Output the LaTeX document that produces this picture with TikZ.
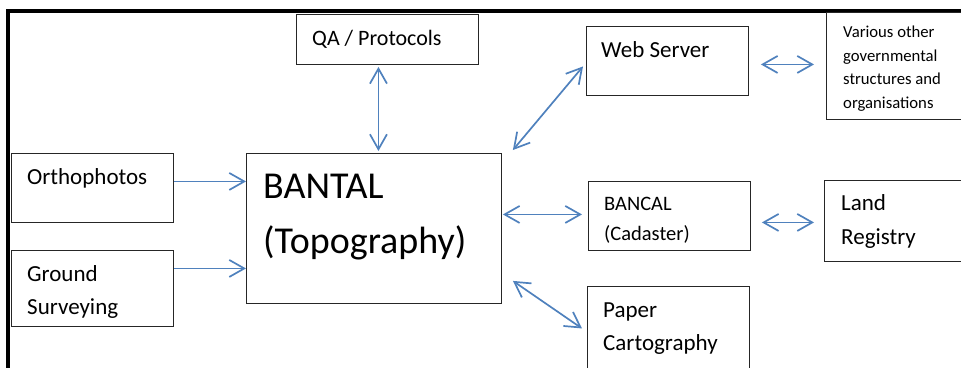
\documentclass[tikz,border=0pt]{standalone}
\usepackage{fontspec}
\setmainfont{Carlito}
\usetikzlibrary{arrows.meta, calc}
\definecolor{flowblue}{RGB}{79,129,189}

\begin{document}
\begin{tikzpicture}[x=1pt, y=-1pt, >={Straight Barb[length=15pt,width=17pt]}]
        \tikzstyle{box}=[draw=black!85, line width=0.9pt, inner sep=0pt, anchor=north west]
        \tikzstyle{txt}=[anchor=base west, align=left, inner sep=0pt, font=\fontsize{23}{33}\selectfont]
        \tikzstyle{flow}=[draw=flowblue, line width=1.7pt]
        \useasboundingbox (0,0) rectangle (961,367);
        \clip (0,0) rectangle (961,367);
        % frame
        \draw[line width=4pt] (8,370) -- (8,10.5) -- (965,10.5);
        % boxes
        \node[box, minimum width=182, minimum height=50] (qa) at (296,14) {};
        \node[box, minimum width=162, minimum height=69] (web) at (586,26) {};
        \node[box, minimum width=160, minimum height=107] (various) at (826,12) {};
        \node[box, minimum width=162, minimum height=69] (ortho) at (11,153) {};
        \node[box, minimum width=162, minimum height=76] (ground) at (11,250) {};
        \node[box, minimum width=255, minimum height=150] (bantal) at (246,153) {};
        \node[box, minimum width=162, minimum height=69] (bancal) at (588,181) {};
        \node[box, minimum width=160, minimum height=81] (land) at (824,180) {};
        \node[box, minimum width=162, minimum height=100] (paper) at (587,286) {};
        % texts (base = last line)
        \node[txt, font=\fontsize{22}{33}\selectfont] (qaT) at ($(qa.north west)+(16,31)$) {QA / Protocols};
        \node[txt] (webT) at ($(web.north west)+(15,31)$) {Web Server};
        \node[txt, font=\fontsize{16.7}{23.5}\selectfont] (variousT) at ($(various.north west)+(17,96)$)
            {Various other\\governmental\\structures and\\organisations};
        \node[txt] (orthoT) at ($(ortho.north west)+(16,31)$) {Orthophotos};
        \node[txt] (groundT) at ($(ground.north west)+(16,64)$) {Ground\\Surveying};
        \node[txt, font=\fontsize{38}{55}\selectfont] (bantalT) at ($(bantal.north west)+(17,100)$) {BANTAL\\(Topography)};
        \node[txt, font=\fontsize{20.5}{30}\selectfont] (bancalT) at ($(bancal.north west)+(16,59)$) {BANCAL\\(Cadaster)};
        \node[txt, font=\fontsize{23}{34}\selectfont] (landT) at ($(land.north west)+(17,64)$) {Land\\Registry};
        \node[txt] (paperT) at ($(paper.north west)+(16,64)$) {Paper\\Cartography};
        % connectors
        \draw[flow, <->] ($(qa.south)+(-9,2)$) -- ($(bantal.north)+(4.5,-2)$);
        \draw[flow, <->] ($(bantal.north east)+(11,-3)$) -- ($(web.west)+(-3,5.5)$);
        \draw[flow, <->] ($(web.east)+(12,3.5)$) -- ($(various.west)+(-12,-1.5)$);
        \draw[flow, ->] ($(ortho.east)+(0,-6.5)$) -- ($(bantal.west)+(0,-47)$);
        \draw[flow, ->] ($(ground.east)+(0,-20)$) -- ($(bantal.west)+(0,40)$);
        \draw[flow, <->] ($(bantal.east)+(1,-14)$) -- ($(bancal.west)+(-6,-1.5)$);
        \draw[flow, <->] ($(bancal.east)+(11,6.5)$) -- ($(land.west)+(-10,1.5)$);
        \draw[flow, <->] ($(bantal.south east)+(11,-23)$) -- ($(paper.west)+(-5,-8)$);
    \end{tikzpicture}
\end{document}
